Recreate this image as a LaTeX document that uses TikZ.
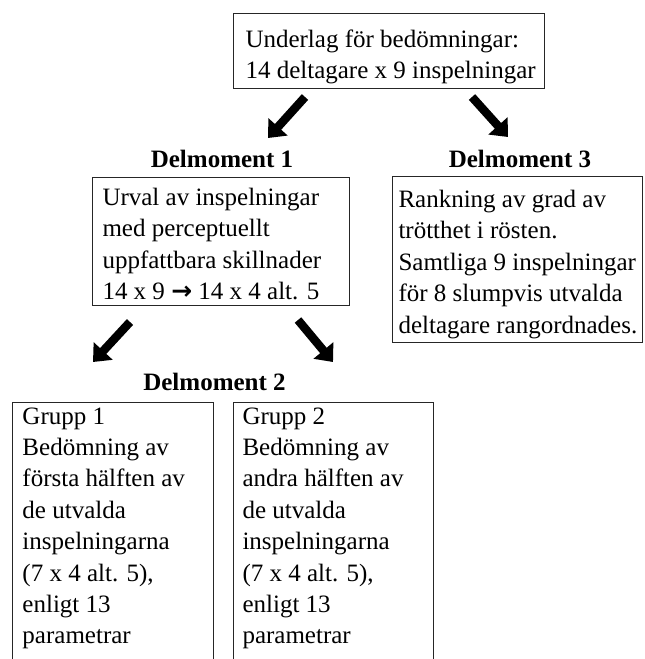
\documentclass[tikz,border=0pt]{standalone}
\usepackage{fontspec}
\setmainfont{Liberation Serif}
\newfontfamily\symfont{DejaVu Sans}
\usetikzlibrary{arrows.meta}
\newcommand\bx[5]{% width, height, left pad, first baseline, text
  \vbox to #2pt{\hsize=#1pt\parindent=0pt\parskip=0pt\leftskip=#3pt\rightskip=0pt plus 1fil
  \baselineskip=31.4pt\lineskip=0pt\lineskiplimit=-100pt
  \noindent\rule{0pt}{#4pt}#5\par\vss}}
\newcommand\thickarrow{{\symfont\bfseries →}}
\begin{document}
\begin{tikzpicture}[x=1pt,y=-1pt,
  every node/.style={font=\fontsize{25}{31.4}\selectfont},
  box/.style={draw=black!85, line width=1pt, inner sep=0pt, anchor=north west},
  head/.style={font=\fontsize{25}{31.4}\selectfont\bfseries, anchor=base, inner sep=0pt},
  blockarrow/.style={line width=8.5pt, -{Triangle[length=15pt,width=25pt]}}]
\useasboundingbox (0,0) rectangle (645,659);
\clip (0,0) rectangle (645,659);

\node[box] (top) at (233,13) {\bx{311}{74.5}{12}{34}{Underlag för bedömningar:\par 14 deltagare x 9 inspelningar}};

\node[head] (h1) at (222,167) {Delmoment 1};
\node[head] (h3) at (520,167) {Delmoment 3};
\node[head] (h2) at (214.5,390) {Delmoment 2};

\node[box] (d1) at (92,176.5) {\bx{257}{128.5}{10}{28.5}{Urval av inspelningar\par med perceptuellt\par uppfattbara skillnader\par 14 x 9 \thickarrow\ 14 x 4 alt. 5}};

\node[box] (d3) at (392,175.5) {\bx{250}{166.5}{6}{31.5}{Rankning av grad av\par trötthet i rösten.\par Samtliga 9 inspelningar\par för 8 slumpvis utvalda\par deltagare rangordnades.}};

\node[box] (g1) at (12,401.5) {\bx{201}{300}{10}{22}{Grupp 1\par Bedömning av\par första hälften av\par de utvalda\par inspelningarna\par (7 x 4 alt. 5),\par enligt 13\par parametrar}};

\node[box] (g2) at (233,402) {\bx{200}{300}{9}{21.5}{Grupp 2\par Bedömning av\par andra hälften av\par de utvalda\par inspelningarna\par (7 x 4 alt. 5),\par enligt 13\par parametrar}};

\coordinate (a1s) at (305,97);  \coordinate (a1e) at (268,138);
\coordinate (a2s) at (472,97);  \coordinate (a2e) at (508,137);
\coordinate (a3s) at (130,322); \coordinate (a3e) at (93,362);
\coordinate (a4s) at (298,320); \coordinate (a4e) at (333,362);
\draw[blockarrow] (a1s) -- (a1e);
\draw[blockarrow] (a2s) -- (a2e);
\draw[blockarrow] (a3s) -- (a3e);
\draw[blockarrow] (a4s) -- (a4e);
\end{tikzpicture}
\end{document}
